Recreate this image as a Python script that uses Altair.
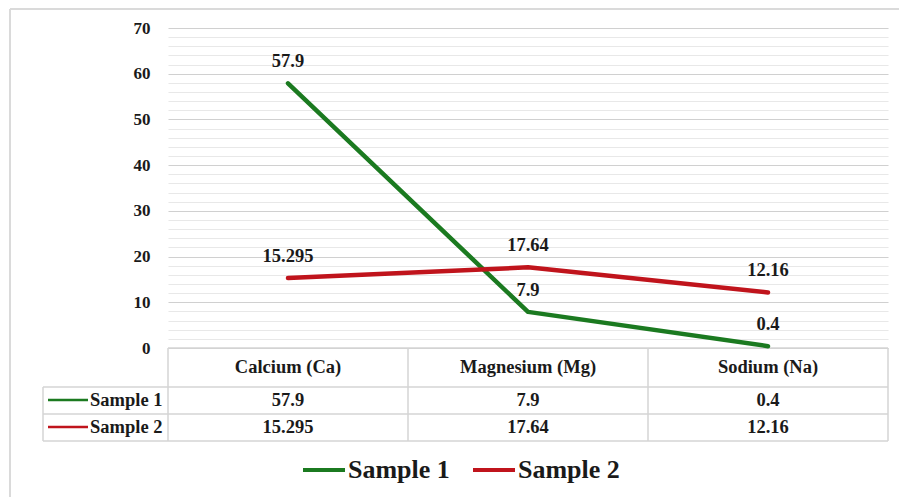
import altair as alt
import pandas as pd

# ---- data -------------------------------------------------------------
elements = ["Calcium (Ca)", "Magnesium (Mg)", "Sodium (Na)"]
series_names = ["Sample 1", "Sample 2"]
sample_1 = [57.9, 7.9, 0.4]
sample_2 = [15.295, 17.64, 12.16]
y_ticks = list(range(0, 71, 2))

rows = []
for name, vals in zip(series_names, [sample_1, sample_2]):
    for el, v in zip(elements, vals):
        rows.append({"element": el, "series": name, "value": v, "label": f"{v:g}"})
df = pd.DataFrame(rows)

# ---- styling ----------------------------------------------------------
FONT = "Liberation Serif"
INK = "#1a1a1a"
GREEN = "#1b7a20"
RED = "#c0141c"
BORDER = "#d4d4d4"
W, H = 720, 320
FS = 18.5

x_enc = alt.X("element:N", sort=elements, axis=None,
              scale=alt.Scale(type="point", domain=elements, padding=0.5))
y_enc = alt.Y(
    "value:Q",
    scale=alt.Scale(domain=[0, 70], nice=False),
    axis=alt.Axis(
        values=y_ticks,
        labelExpr="datum.value % 10 === 0 ? datum.label : ''",
        gridColor={"condition": {"test": "datum.value % 10 === 0", "value": "#d0d0d0"},
                   "value": "#e8e8e8"},
        gridWidth=1.2, labelOverlap=False,
        domain=False, ticks=False, labelPadding=18,
        labelFont=FONT, labelFontSize=17, labelFontWeight="bold", labelColor=INK,
        title=None,
    ),
)
color_scale = alt.Scale(domain=series_names, range=[GREEN, RED])

base = alt.Chart(df)

lines = base.mark_line(strokeWidth=4.5, strokeCap="round", strokeJoin="round").encode(
    x=x_enc,
    y=y_enc,
    color=alt.Color(
        "series:N", scale=color_scale,
        legend=alt.Legend(
            orient="none", legendX=133, legendY=419, direction="horizontal",
            title=None, symbolType="stroke", symbolSize=1764, symbolStrokeWidth=4,
            labelFont=FONT, labelFontSize=26, labelFontWeight="bold", labelColor=INK,
            columnPadding=15, labelOffset=1,
        ),
    ),
    detail="series:N",
)

point_labels = base.mark_text(
    font=FONT, fontSize=FS, fontWeight="bold", color=INK, dy=-22, baseline="middle"
).encode(x=x_enc, y=y_enc, text="label:N")

# ---- data table under the plot ---------------------------------------
HEADER_Y, ROW1_Y, ROW2_Y = 339, 372, 399

header = alt.Chart(pd.DataFrame({"element": elements})).mark_text(
    font=FONT, fontSize=FS, fontWeight="bold", color=INK, baseline="middle"
).encode(x=x_enc, y=alt.value(HEADER_Y), text="element:N")


def value_row(name, ypix):
    return base.transform_filter(alt.datum.series == name).mark_text(
        font=FONT, fontSize=FS, fontWeight="bold", color=INK, baseline="middle"
    ).encode(x=x_enc, y=alt.value(ypix), text="label:N")


def row_key(name, ypix):
    src = alt.Chart(pd.DataFrame({"series": [name]}))
    swatch = src.mark_rule(strokeWidth=2.5).encode(
        x=alt.value(-120), x2=alt.value(-80), y=alt.value(ypix),
        color=alt.Color("series:N", scale=color_scale, legend=None),
    )
    txt = src.mark_text(
        font=FONT, fontSize=FS, fontWeight="bold", color=INK, align="left", baseline="middle"
    ).encode(x=alt.value(-78), y=alt.value(ypix), text="series:N")
    return swatch + txt


one = alt.Data(values=[{}])


def hline(y, x0, x1, color=BORDER, width=1.5):
    return alt.Chart(one).mark_rule(color=color, strokeWidth=width).encode(
        x=alt.value(x0), x2=alt.value(x1), y=alt.value(y))


def vline(x, y0, y1, color=BORDER, width=1.5):
    return alt.Chart(one).mark_rule(color=color, strokeWidth=width).encode(
        x=alt.value(x), y=alt.value(y0), y2=alt.value(y1))


table_rules = [
    hline(H, 0, W),
    hline(359, -125, W),
    hline(386, -125, W),
    hline(413, -125, W),
    vline(-125, 359, 413),
    vline(0, H, 413),
    vline(240, H, 413),
    vline(480, H, 413),
    vline(W, H, 413),
]

# outer chart frame
frame = [
    hline(-19, -158, W + 20, color="#dadada", width=2),
    vline(-158, -19, H + 160, color="#dadada", width=2),
]

chart = alt.layer(
    *frame,
    *table_rules,
    lines,
    point_labels,
    header,
    value_row("Sample 1", ROW1_Y),
    value_row("Sample 2", ROW2_Y),
    row_key("Sample 1", ROW1_Y),
    row_key("Sample 2", ROW2_Y),
).properties(
    width=W, height=H,
    autosize=alt.AutoSizeParams(type="none"),
    padding={"left": 168, "top": 28, "right": 11, "bottom": 149},
    background="white",
).configure_view(stroke=None)

chart.save("out.html", embed_options={"renderer": "svg", "actions": False})
